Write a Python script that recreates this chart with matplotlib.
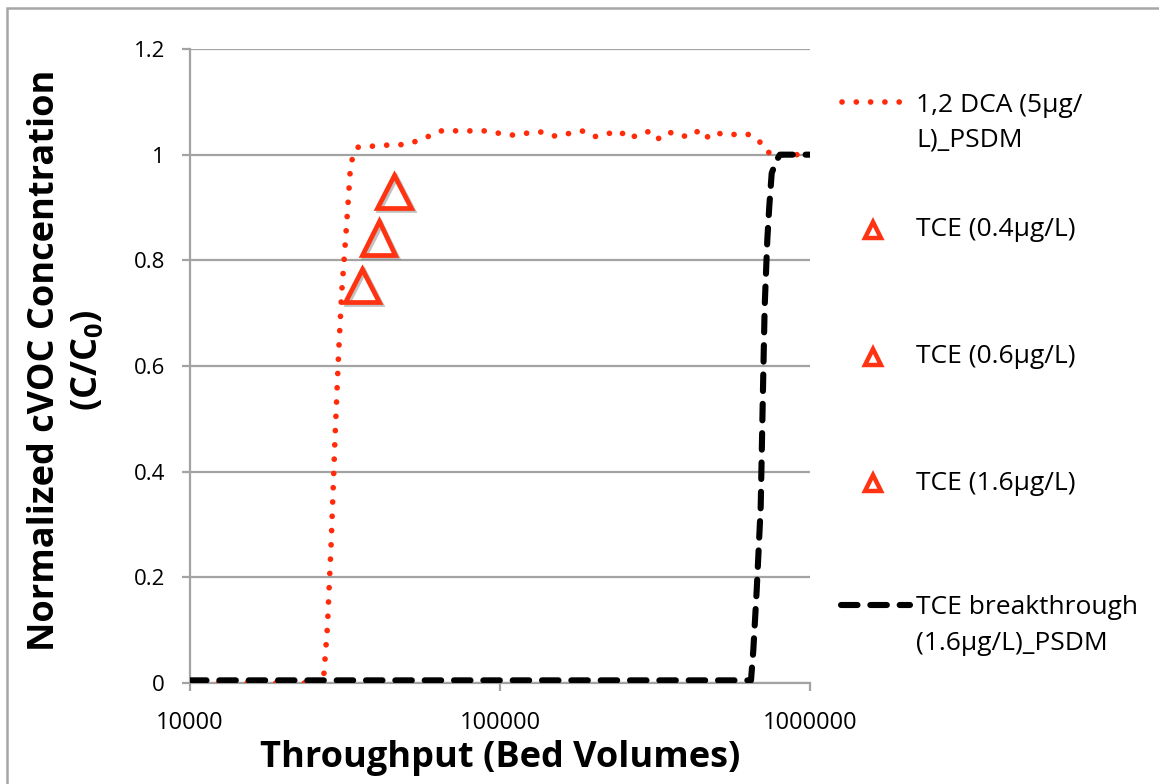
import matplotlib
matplotlib.use("Agg")
import matplotlib.pyplot as plt
import matplotlib.patheffects as pe
from matplotlib.lines import Line2D
from matplotlib.patches import Rectangle
from matplotlib.ticker import FixedLocator, NullLocator

plt.rcParams["font.family"] = ["Open Sans", "DejaVu Sans"]

# 1,2 DCA (5 ug/L) PSDM prediction
dca_bv = [10000, 26900, 27730, 28560, 29360, 30180, 30860, 31620, 32340,
          32820, 33310, 34640, 38650, 43110, 48040, 53480, 59020, 65350,
          72660, 81040, 90340, 100230, 110400, 123100, 136600, 150800,
          166600, 183900, 201500, 220300, 242600, 261300, 282900, 309300,
          325800, 349200, 378000, 401000, 434200, 458400, 489100, 519000,
          550800, 594700, 635800, 684800, 710700, 759700, 1000000]
dca_c = [0.0, 0.0, 0.103, 0.270, 0.464, 0.629, 0.740, 0.824, 0.907,
         0.964, 0.990, 1.014, 1.016, 1.018, 1.019, 1.025, 1.035, 1.046,
         1.045, 1.045, 1.045, 1.040, 1.037, 1.041, 1.043, 1.035,
         1.040, 1.045, 1.034, 1.039, 1.045, 1.030, 1.040, 1.045,
         1.030, 1.042, 1.040, 1.033, 1.044, 1.030, 1.043, 1.039,
         1.037, 1.040, 1.038, 1.027, 1.009, 1.000, 1.000]

# TCE breakthrough (1.6 ug/L) PSDM prediction
tce_bv = [10000, 645200, 656300, 673100, 693400, 700100, 706900, 714200,
          728200, 739000, 752400, 780800, 800100, 1000000]
tce_c = [0.005, 0.005, 0.062, 0.176, 0.334, 0.460, 0.587, 0.713,
         0.839, 0.902, 0.965, 0.990, 1.000, 1.000]

# measured TCE points
tce_labels = ["TCE (0.4\u03bcg/L)", "TCE (0.6\u03bcg/L)", "TCE (1.6\u03bcg/L)"]
tce_pts_bv = [35900, 40600, 45500]
tce_pts_c = [0.752, 0.842, 0.930]

red = "#FF2B0A"
tri_red = "#FF3311"
dots = (0, (0.01, 2.5))
dashes = (0, (2.7, 2.1))

fig = plt.figure(figsize=(11.59, 7.84), dpi=100)
ax = fig.add_axes([190 / 1159, 1 - 683 / 784, 620 / 1159, 634 / 784])

ax.plot(dca_bv, dca_c, color=red, lw=4.1, ls=dots,
        dash_capstyle="round", zorder=3)
ax.plot(tce_bv, tce_c, color="black", lw=4.4, ls=dashes,
        dash_capstyle="round", zorder=4)

shadow = [pe.SimpleLineShadow(offset=(1.5, -1.5), shadow_color="#777777", alpha=0.45),
          pe.Normal()]
for bv, c in zip(tce_pts_bv, tce_pts_c):
    ax.plot([bv], [c], marker="^", ms=24, mfc="none", mec=tri_red, mew=3.4,
            ls="none", zorder=5, path_effects=shadow)

ax.set_xscale("log")
ax.set_xlim(10000, 1000000)
ax.set_ylim(0, 1.2)
ax.xaxis.set_major_locator(FixedLocator([10000, 100000, 1000000]))
ax.xaxis.set_minor_locator(NullLocator())
ax.set_xticklabels(["10000", "100000", "1000000"])
ax.set_yticks([0, 0.2, 0.4, 0.6, 0.8, 1.0, 1.2])
ax.set_yticklabels(["0", "0.2", "0.4", "0.6", "0.8", "1", "1.2"])

grid_c = "#A3A3A3"
ax.yaxis.grid(True, color=grid_c, lw=1.6)
ax.set_axisbelow(True)
for s in ["top", "right"]:
    ax.spines[s].set_visible(False)
for s in ["left", "bottom"]:
    ax.spines[s].set_color(grid_c)
    ax.spines[s].set_linewidth(1.6)
ax.tick_params(axis="y", direction="out", length=6, width=1.6, color=grid_c,
               labelsize=16, pad=12)
ax.tick_params(axis="x", direction="out", length=6, width=1.6, color=grid_c,
               labelsize=17, pad=14)

ax.set_xlabel("Throughput (Bed Volumes)", fontsize=26, fontweight="bold",
              labelpad=4)
fig.text(45 / 1159, 1 - 360 / 784, "Normalized cVOC Concentration",
         rotation=90, fontsize=26, fontweight="bold", ha="center", va="center")
fig.text(88 / 1159, 1 - 360 / 784, "(C/C$\\mathregular{_0}$)",
         rotation=90, fontsize=26, fontweight="bold", ha="center", va="center")

# legend, drawn by hand so the two-line entries line up on their first line
def fx(px):
    return px / 1159


def fy(py):
    return 1 - py / 784


leg_text_x = fx(916)
fig.add_artist(Line2D([fx(842), fx(900)], [fy(102), fy(102)], color=red,
                      lw=4.1, ls=dots, dash_capstyle="round"))
fig.text(leg_text_x, fy(105), "1,2 DCA (5\u03bcg/", fontsize=19, va="center")
fig.text(leg_text_x, fy(140), "L)_PSDM", fontsize=19, va="center")

for lab, py in zip(tce_labels, [230, 357, 483]):
    fig.add_artist(Line2D([fx(873)], [fy(py)], marker="^", ms=12, mfc="none",
                          mec=tri_red, mew=3.2, ls="none"))
    fig.text(leg_text_x, fy(py), lab, fontsize=19, va="center")

fig.add_artist(Line2D([fx(841), fx(910)], [fy(605), fy(605)], color="black",
                      lw=4.4, ls=dashes, dash_capstyle="round"))
fig.text(leg_text_x, fy(608), "TCE breakthrough", fontsize=19, va="center")
fig.text(leg_text_x, fy(643), "(1.6\u03bcg/L)_PSDM", fontsize=19, va="center")

# chart frame
fig.add_artist(Rectangle((fx(7), -0.05), 1.2, fy(8) + 0.05, fill=False,
                         ec="#A6A6A6", lw=1.8))

fig.savefig("out.png", dpi=100)
